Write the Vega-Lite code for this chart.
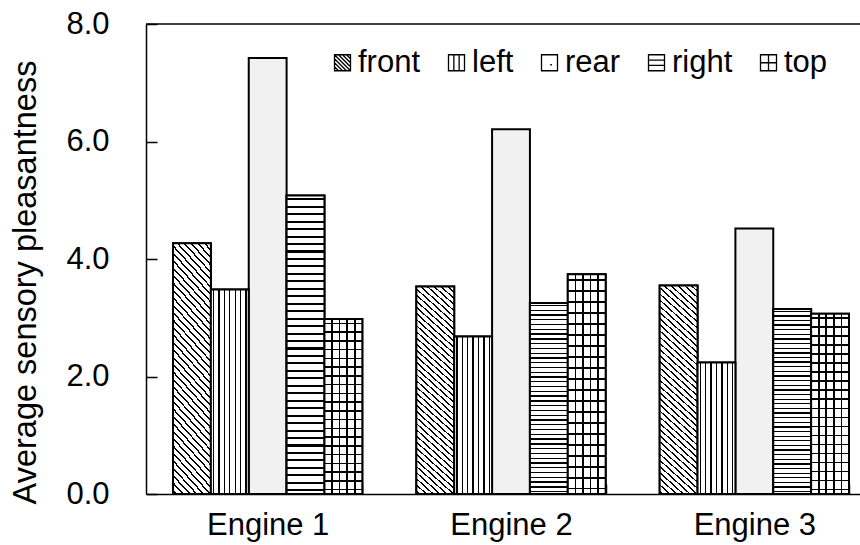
{
  "$schema": "https://vega.github.io/schema/vega-lite/v6.json",
  "width": 714,
  "height": 470,
  "autosize": {"type": "none"},
  "padding": {"left": 146, "top": 24, "right": 0, "bottom": 51},
  "background": "white",
  "config": {
    "font": "Liberation Sans",
    "view": {"stroke": null},
    "axis": {"domainColor": "black", "domainWidth": 1.5, "tickColor": "black", "tickWidth": 1.5, "labelColor": "black", "titleColor": "black", "grid": false, "labelFont": "Liberation Sans", "titleFont": "Liberation Sans"}
  },
  "encoding": {
    "y": {
      "field": "value",
      "type": "quantitative",
      "title": "Average sensory pleasantness",
      "scale": {"domain": [0, 8], "nice": false},
      "axis": {
        "values": [0, 2, 4, 6, 8],
        "format": ".1f",
        "tickSize": -11,
        "labelPadding": 48,
        "labelFontSize": 31,
        "titleFontSize": 32.5,
        "titleFontWeight": "normal",
        "titleAngle": 270,
        "titleX": -111,
        "titleY": 258,
        "titleAlign": "center",
        "titleBaseline": "alphabetic"
      }
    }
  },
  "layer": [
    {
      "data": {"values": [
        {"engine": "Engine 1", "pos": "front", "value": 4.27},
        {"engine": "Engine 1", "pos": "left", "value": 3.48},
        {"engine": "Engine 1", "pos": "rear", "value": 7.42},
        {"engine": "Engine 1", "pos": "right", "value": 5.08},
        {"engine": "Engine 1", "pos": "top", "value": 2.98},
        {"engine": "Engine 2", "pos": "front", "value": 3.53},
        {"engine": "Engine 2", "pos": "left", "value": 2.68},
        {"engine": "Engine 2", "pos": "rear", "value": 6.21},
        {"engine": "Engine 2", "pos": "right", "value": 3.25},
        {"engine": "Engine 2", "pos": "top", "value": 3.74},
        {"engine": "Engine 3", "pos": "front", "value": 3.55},
        {"engine": "Engine 3", "pos": "left", "value": 2.24},
        {"engine": "Engine 3", "pos": "rear", "value": 4.52},
        {"engine": "Engine 3", "pos": "right", "value": 3.15},
        {"engine": "Engine 3", "pos": "top", "value": 3.07}
      ]},
      "encoding": {
        "x": {
          "field": "engine", "type": "nominal", "title": null,
          "scale": {"domain": ["Engine 1", "Engine 2", "Engine 3"], "range": [0, 730], "paddingInner": 0.222, "paddingOuter": 0.111},
          "axis": {"labelAngle": 0, "labelFontSize": 31, "tickBand": "extent", "tickSize": -10, "labelPadding": 26}
        },
        "xOffset": {
          "field": "pos", "type": "nominal",
          "scale": {"domain": ["front", "left", "rear", "right", "top"], "paddingInner": 0, "paddingOuter": 0}
        }
      },
      "layer": [
        {
          "mark": {"type": "bar", "stroke": "black", "strokeWidth": 2, "fill": "#f1f1f1"},
          "encoding": {}
        },
        {
          "transform": [{"filter": "datum.pos === 'front'"}],
          "mark": {"type": "bar", "stroke": "black", "strokeWidth": 2, "fill": {"gradient": "linear", "x1": 0, "y1": 1, "x2": 0.19, "y2": -0.15, "stops": [
            {"offset":0.009,"color":"#fff"},{"offset":0.009,"color":"#000"},{"offset":0.016,"color":"#000"},{"offset":0.016,"color":"#fff"},
            {"offset":0.034,"color":"#fff"},{"offset":0.034,"color":"#000"},{"offset":0.041,"color":"#000"},{"offset":0.041,"color":"#fff"},
            {"offset":0.059,"color":"#fff"},{"offset":0.059,"color":"#000"},{"offset":0.066,"color":"#000"},{"offset":0.066,"color":"#fff"},
            {"offset":0.084,"color":"#fff"},{"offset":0.084,"color":"#000"},{"offset":0.091,"color":"#000"},{"offset":0.091,"color":"#fff"},
            {"offset":0.109,"color":"#fff"},{"offset":0.109,"color":"#000"},{"offset":0.116,"color":"#000"},{"offset":0.116,"color":"#fff"},
            {"offset":0.134,"color":"#fff"},{"offset":0.134,"color":"#000"},{"offset":0.141,"color":"#000"},{"offset":0.141,"color":"#fff"},
            {"offset":0.159,"color":"#fff"},{"offset":0.159,"color":"#000"},{"offset":0.166,"color":"#000"},{"offset":0.166,"color":"#fff"},
            {"offset":0.184,"color":"#fff"},{"offset":0.184,"color":"#000"},{"offset":0.191,"color":"#000"},{"offset":0.191,"color":"#fff"},
            {"offset":0.209,"color":"#fff"},{"offset":0.209,"color":"#000"},{"offset":0.216,"color":"#000"},{"offset":0.216,"color":"#fff"},
            {"offset":0.234,"color":"#fff"},{"offset":0.234,"color":"#000"},{"offset":0.241,"color":"#000"},{"offset":0.241,"color":"#fff"},
            {"offset":0.259,"color":"#fff"},{"offset":0.259,"color":"#000"},{"offset":0.266,"color":"#000"},{"offset":0.266,"color":"#fff"},
            {"offset":0.284,"color":"#fff"},{"offset":0.284,"color":"#000"},{"offset":0.291,"color":"#000"},{"offset":0.291,"color":"#fff"},
            {"offset":0.309,"color":"#fff"},{"offset":0.309,"color":"#000"},{"offset":0.316,"color":"#000"},{"offset":0.316,"color":"#fff"},
            {"offset":0.334,"color":"#fff"},{"offset":0.334,"color":"#000"},{"offset":0.341,"color":"#000"},{"offset":0.341,"color":"#fff"},
            {"offset":0.359,"color":"#fff"},{"offset":0.359,"color":"#000"},{"offset":0.366,"color":"#000"},{"offset":0.366,"color":"#fff"},
            {"offset":0.384,"color":"#fff"},{"offset":0.384,"color":"#000"},{"offset":0.391,"color":"#000"},{"offset":0.391,"color":"#fff"},
            {"offset":0.409,"color":"#fff"},{"offset":0.409,"color":"#000"},{"offset":0.416,"color":"#000"},{"offset":0.416,"color":"#fff"},
            {"offset":0.434,"color":"#fff"},{"offset":0.434,"color":"#000"},{"offset":0.441,"color":"#000"},{"offset":0.441,"color":"#fff"},
            {"offset":0.459,"color":"#fff"},{"offset":0.459,"color":"#000"},{"offset":0.466,"color":"#000"},{"offset":0.466,"color":"#fff"},
            {"offset":0.484,"color":"#fff"},{"offset":0.484,"color":"#000"},{"offset":0.491,"color":"#000"},{"offset":0.491,"color":"#fff"},
            {"offset":0.509,"color":"#fff"},{"offset":0.509,"color":"#000"},{"offset":0.516,"color":"#000"},{"offset":0.516,"color":"#fff"},
            {"offset":0.534,"color":"#fff"},{"offset":0.534,"color":"#000"},{"offset":0.541,"color":"#000"},{"offset":0.541,"color":"#fff"},
            {"offset":0.559,"color":"#fff"},{"offset":0.559,"color":"#000"},{"offset":0.566,"color":"#000"},{"offset":0.566,"color":"#fff"},
            {"offset":0.584,"color":"#fff"},{"offset":0.584,"color":"#000"},{"offset":0.591,"color":"#000"},{"offset":0.591,"color":"#fff"},
            {"offset":0.609,"color":"#fff"},{"offset":0.609,"color":"#000"},{"offset":0.616,"color":"#000"},{"offset":0.616,"color":"#fff"},
            {"offset":0.634,"color":"#fff"},{"offset":0.634,"color":"#000"},{"offset":0.641,"color":"#000"},{"offset":0.641,"color":"#fff"},
            {"offset":0.659,"color":"#fff"},{"offset":0.659,"color":"#000"},{"offset":0.666,"color":"#000"},{"offset":0.666,"color":"#fff"},
            {"offset":0.684,"color":"#fff"},{"offset":0.684,"color":"#000"},{"offset":0.691,"color":"#000"},{"offset":0.691,"color":"#fff"},
            {"offset":0.709,"color":"#fff"},{"offset":0.709,"color":"#000"},{"offset":0.716,"color":"#000"},{"offset":0.716,"color":"#fff"},
            {"offset":0.734,"color":"#fff"},{"offset":0.734,"color":"#000"},{"offset":0.741,"color":"#000"},{"offset":0.741,"color":"#fff"},
            {"offset":0.759,"color":"#fff"},{"offset":0.759,"color":"#000"},{"offset":0.766,"color":"#000"},{"offset":0.766,"color":"#fff"},
            {"offset":0.784,"color":"#fff"},{"offset":0.784,"color":"#000"},{"offset":0.791,"color":"#000"},{"offset":0.791,"color":"#fff"},
            {"offset":0.809,"color":"#fff"},{"offset":0.809,"color":"#000"},{"offset":0.816,"color":"#000"},{"offset":0.816,"color":"#fff"},
            {"offset":0.834,"color":"#fff"},{"offset":0.834,"color":"#000"},{"offset":0.841,"color":"#000"},{"offset":0.841,"color":"#fff"},
            {"offset":0.859,"color":"#fff"},{"offset":0.859,"color":"#000"},{"offset":0.866,"color":"#000"},{"offset":0.866,"color":"#fff"},
            {"offset":0.884,"color":"#fff"},{"offset":0.884,"color":"#000"},{"offset":0.891,"color":"#000"},{"offset":0.891,"color":"#fff"},
            {"offset":0.909,"color":"#fff"},{"offset":0.909,"color":"#000"},{"offset":0.916,"color":"#000"},{"offset":0.916,"color":"#fff"},
            {"offset":0.934,"color":"#fff"},{"offset":0.934,"color":"#000"},{"offset":0.941,"color":"#000"},{"offset":0.941,"color":"#fff"},
            {"offset":0.959,"color":"#fff"},{"offset":0.959,"color":"#000"},{"offset":0.966,"color":"#000"},{"offset":0.966,"color":"#fff"},
            {"offset":0.984,"color":"#fff"},{"offset":0.984,"color":"#000"},{"offset":0.991,"color":"#000"},{"offset":0.991,"color":"#fff"}
          ]}},
          "encoding": {}
        },
        {
          "transform": [{"filter": "datum.pos === 'left'"}],
          "mark": {"type": "bar", "stroke": "black", "strokeWidth": 2, "fill": {"gradient": "linear", "x1": 0, "y1": 0, "x2": 1, "y2": 0, "stops": [
            {"offset":0.0534,"color":"#fff"},{"offset":0.0534,"color":"#000"},{"offset":0.0894,"color":"#000"},{"offset":0.0894,"color":"#fff"},
            {"offset":0.1963,"color":"#fff"},{"offset":0.1963,"color":"#000"},{"offset":0.2323,"color":"#000"},{"offset":0.2323,"color":"#fff"},
            {"offset":0.3391,"color":"#fff"},{"offset":0.3391,"color":"#000"},{"offset":0.3751,"color":"#000"},{"offset":0.3751,"color":"#fff"},
            {"offset":0.482,"color":"#fff"},{"offset":0.482,"color":"#000"},{"offset":0.518,"color":"#000"},{"offset":0.518,"color":"#fff"},
            {"offset":0.6249,"color":"#fff"},{"offset":0.6249,"color":"#000"},{"offset":0.6609,"color":"#000"},{"offset":0.6609,"color":"#fff"},
            {"offset":0.7677,"color":"#fff"},{"offset":0.7677,"color":"#000"},{"offset":0.8037,"color":"#000"},{"offset":0.8037,"color":"#fff"},
            {"offset":0.9106,"color":"#fff"},{"offset":0.9106,"color":"#000"},{"offset":0.9466,"color":"#000"},{"offset":0.9466,"color":"#fff"}
          ]}},
          "encoding": {}
        },
        {
          "transform": [{"filter": "datum.pos === 'right'"}],
          "mark": {"type": "bar", "stroke": "black", "strokeWidth": 2, "fill": {"gradient": "linear", "x1": 0, "y1": 0, "x2": 0, "y2": 1, "stops": [
            {"offset":0.009,"color":"#fff"},{"offset":0.009,"color":"#000"},{"offset":0.016,"color":"#000"},{"offset":0.016,"color":"#fff"},
            {"offset":0.034,"color":"#fff"},{"offset":0.034,"color":"#000"},{"offset":0.041,"color":"#000"},{"offset":0.041,"color":"#fff"},
            {"offset":0.059,"color":"#fff"},{"offset":0.059,"color":"#000"},{"offset":0.066,"color":"#000"},{"offset":0.066,"color":"#fff"},
            {"offset":0.084,"color":"#fff"},{"offset":0.084,"color":"#000"},{"offset":0.091,"color":"#000"},{"offset":0.091,"color":"#fff"},
            {"offset":0.109,"color":"#fff"},{"offset":0.109,"color":"#000"},{"offset":0.116,"color":"#000"},{"offset":0.116,"color":"#fff"},
            {"offset":0.134,"color":"#fff"},{"offset":0.134,"color":"#000"},{"offset":0.141,"color":"#000"},{"offset":0.141,"color":"#fff"},
            {"offset":0.159,"color":"#fff"},{"offset":0.159,"color":"#000"},{"offset":0.166,"color":"#000"},{"offset":0.166,"color":"#fff"},
            {"offset":0.184,"color":"#fff"},{"offset":0.184,"color":"#000"},{"offset":0.191,"color":"#000"},{"offset":0.191,"color":"#fff"},
            {"offset":0.209,"color":"#fff"},{"offset":0.209,"color":"#000"},{"offset":0.216,"color":"#000"},{"offset":0.216,"color":"#fff"},
            {"offset":0.234,"color":"#fff"},{"offset":0.234,"color":"#000"},{"offset":0.241,"color":"#000"},{"offset":0.241,"color":"#fff"},
            {"offset":0.259,"color":"#fff"},{"offset":0.259,"color":"#000"},{"offset":0.266,"color":"#000"},{"offset":0.266,"color":"#fff"},
            {"offset":0.284,"color":"#fff"},{"offset":0.284,"color":"#000"},{"offset":0.291,"color":"#000"},{"offset":0.291,"color":"#fff"},
            {"offset":0.309,"color":"#fff"},{"offset":0.309,"color":"#000"},{"offset":0.316,"color":"#000"},{"offset":0.316,"color":"#fff"},
            {"offset":0.334,"color":"#fff"},{"offset":0.334,"color":"#000"},{"offset":0.341,"color":"#000"},{"offset":0.341,"color":"#fff"},
            {"offset":0.359,"color":"#fff"},{"offset":0.359,"color":"#000"},{"offset":0.366,"color":"#000"},{"offset":0.366,"color":"#fff"},
            {"offset":0.384,"color":"#fff"},{"offset":0.384,"color":"#000"},{"offset":0.391,"color":"#000"},{"offset":0.391,"color":"#fff"},
            {"offset":0.409,"color":"#fff"},{"offset":0.409,"color":"#000"},{"offset":0.416,"color":"#000"},{"offset":0.416,"color":"#fff"},
            {"offset":0.434,"color":"#fff"},{"offset":0.434,"color":"#000"},{"offset":0.441,"color":"#000"},{"offset":0.441,"color":"#fff"},
            {"offset":0.459,"color":"#fff"},{"offset":0.459,"color":"#000"},{"offset":0.466,"color":"#000"},{"offset":0.466,"color":"#fff"},
            {"offset":0.484,"color":"#fff"},{"offset":0.484,"color":"#000"},{"offset":0.491,"color":"#000"},{"offset":0.491,"color":"#fff"},
            {"offset":0.509,"color":"#fff"},{"offset":0.509,"color":"#000"},{"offset":0.516,"color":"#000"},{"offset":0.516,"color":"#fff"},
            {"offset":0.534,"color":"#fff"},{"offset":0.534,"color":"#000"},{"offset":0.541,"color":"#000"},{"offset":0.541,"color":"#fff"},
            {"offset":0.559,"color":"#fff"},{"offset":0.559,"color":"#000"},{"offset":0.566,"color":"#000"},{"offset":0.566,"color":"#fff"},
            {"offset":0.584,"color":"#fff"},{"offset":0.584,"color":"#000"},{"offset":0.591,"color":"#000"},{"offset":0.591,"color":"#fff"},
            {"offset":0.609,"color":"#fff"},{"offset":0.609,"color":"#000"},{"offset":0.616,"color":"#000"},{"offset":0.616,"color":"#fff"},
            {"offset":0.634,"color":"#fff"},{"offset":0.634,"color":"#000"},{"offset":0.641,"color":"#000"},{"offset":0.641,"color":"#fff"},
            {"offset":0.659,"color":"#fff"},{"offset":0.659,"color":"#000"},{"offset":0.666,"color":"#000"},{"offset":0.666,"color":"#fff"},
            {"offset":0.684,"color":"#fff"},{"offset":0.684,"color":"#000"},{"offset":0.691,"color":"#000"},{"offset":0.691,"color":"#fff"},
            {"offset":0.709,"color":"#fff"},{"offset":0.709,"color":"#000"},{"offset":0.716,"color":"#000"},{"offset":0.716,"color":"#fff"},
            {"offset":0.734,"color":"#fff"},{"offset":0.734,"color":"#000"},{"offset":0.741,"color":"#000"},{"offset":0.741,"color":"#fff"},
            {"offset":0.759,"color":"#fff"},{"offset":0.759,"color":"#000"},{"offset":0.766,"color":"#000"},{"offset":0.766,"color":"#fff"},
            {"offset":0.784,"color":"#fff"},{"offset":0.784,"color":"#000"},{"offset":0.791,"color":"#000"},{"offset":0.791,"color":"#fff"},
            {"offset":0.809,"color":"#fff"},{"offset":0.809,"color":"#000"},{"offset":0.816,"color":"#000"},{"offset":0.816,"color":"#fff"},
            {"offset":0.834,"color":"#fff"},{"offset":0.834,"color":"#000"},{"offset":0.841,"color":"#000"},{"offset":0.841,"color":"#fff"},
            {"offset":0.859,"color":"#fff"},{"offset":0.859,"color":"#000"},{"offset":0.866,"color":"#000"},{"offset":0.866,"color":"#fff"},
            {"offset":0.884,"color":"#fff"},{"offset":0.884,"color":"#000"},{"offset":0.891,"color":"#000"},{"offset":0.891,"color":"#fff"},
            {"offset":0.909,"color":"#fff"},{"offset":0.909,"color":"#000"},{"offset":0.916,"color":"#000"},{"offset":0.916,"color":"#fff"},
            {"offset":0.934,"color":"#fff"},{"offset":0.934,"color":"#000"},{"offset":0.941,"color":"#000"},{"offset":0.941,"color":"#fff"},
            {"offset":0.959,"color":"#fff"},{"offset":0.959,"color":"#000"},{"offset":0.966,"color":"#000"},{"offset":0.966,"color":"#fff"},
            {"offset":0.984,"color":"#fff"},{"offset":0.984,"color":"#000"},{"offset":0.991,"color":"#000"},{"offset":0.991,"color":"#fff"}
          ]}},
          "encoding": {}
        },
        {
          "transform": [{"filter": "datum.pos === 'top'"}],
          "mark": {"type": "bar", "stroke": "black", "strokeWidth": 2, "fill": {"gradient": "linear", "x1": 0, "y1": 0, "x2": 0, "y2": 1, "stops": [
            {"offset":0.0205,"color":"#fff"},{"offset":0.0205,"color":"#000"},{"offset":0.0295,"color":"#000"},{"offset":0.0295,"color":"#fff"},
            {"offset":0.0705,"color":"#fff"},{"offset":0.0705,"color":"#000"},{"offset":0.0795,"color":"#000"},{"offset":0.0795,"color":"#fff"},
            {"offset":0.1205,"color":"#fff"},{"offset":0.1205,"color":"#000"},{"offset":0.1295,"color":"#000"},{"offset":0.1295,"color":"#fff"},
            {"offset":0.1705,"color":"#fff"},{"offset":0.1705,"color":"#000"},{"offset":0.1795,"color":"#000"},{"offset":0.1795,"color":"#fff"},
            {"offset":0.2205,"color":"#fff"},{"offset":0.2205,"color":"#000"},{"offset":0.2295,"color":"#000"},{"offset":0.2295,"color":"#fff"},
            {"offset":0.2705,"color":"#fff"},{"offset":0.2705,"color":"#000"},{"offset":0.2795,"color":"#000"},{"offset":0.2795,"color":"#fff"},
            {"offset":0.3205,"color":"#fff"},{"offset":0.3205,"color":"#000"},{"offset":0.3295,"color":"#000"},{"offset":0.3295,"color":"#fff"},
            {"offset":0.3705,"color":"#fff"},{"offset":0.3705,"color":"#000"},{"offset":0.3795,"color":"#000"},{"offset":0.3795,"color":"#fff"},
            {"offset":0.4205,"color":"#fff"},{"offset":0.4205,"color":"#000"},{"offset":0.4295,"color":"#000"},{"offset":0.4295,"color":"#fff"},
            {"offset":0.4705,"color":"#fff"},{"offset":0.4705,"color":"#000"},{"offset":0.4795,"color":"#000"},{"offset":0.4795,"color":"#fff"},
            {"offset":0.5205,"color":"#fff"},{"offset":0.5205,"color":"#000"},{"offset":0.5295,"color":"#000"},{"offset":0.5295,"color":"#fff"},
            {"offset":0.5705,"color":"#fff"},{"offset":0.5705,"color":"#000"},{"offset":0.5795,"color":"#000"},{"offset":0.5795,"color":"#fff"},
            {"offset":0.6205,"color":"#fff"},{"offset":0.6205,"color":"#000"},{"offset":0.6295,"color":"#000"},{"offset":0.6295,"color":"#fff"},
            {"offset":0.6705,"color":"#fff"},{"offset":0.6705,"color":"#000"},{"offset":0.6795,"color":"#000"},{"offset":0.6795,"color":"#fff"},
            {"offset":0.7205,"color":"#fff"},{"offset":0.7205,"color":"#000"},{"offset":0.7295,"color":"#000"},{"offset":0.7295,"color":"#fff"},
            {"offset":0.7705,"color":"#fff"},{"offset":0.7705,"color":"#000"},{"offset":0.7795,"color":"#000"},{"offset":0.7795,"color":"#fff"},
            {"offset":0.8205,"color":"#fff"},{"offset":0.8205,"color":"#000"},{"offset":0.8295,"color":"#000"},{"offset":0.8295,"color":"#fff"},
            {"offset":0.8705,"color":"#fff"},{"offset":0.8705,"color":"#000"},{"offset":0.8795,"color":"#000"},{"offset":0.8795,"color":"#fff"},
            {"offset":0.9205,"color":"#fff"},{"offset":0.9205,"color":"#000"},{"offset":0.9295,"color":"#000"},{"offset":0.9295,"color":"#fff"},
            {"offset":0.9705,"color":"#fff"},{"offset":0.9705,"color":"#000"},{"offset":0.9795,"color":"#000"},{"offset":0.9795,"color":"#fff"}
          ]}},
          "encoding": {}
        },
        {
          "transform": [{"filter": "datum.pos === 'top'"}],
          "mark": {"type": "bar", "strokeWidth": 0, "fill": {"gradient": "linear", "x1": 0, "y1": 0, "x2": 1, "y2": 0, "stops": [
            {"offset":0.178,"color":"rgba(0,0,0,0)"},{"offset":0.178,"color":"#000"},{"offset":0.222,"color":"#000"},{"offset":0.222,"color":"rgba(0,0,0,0)"},
            {"offset":0.378,"color":"rgba(0,0,0,0)"},{"offset":0.378,"color":"#000"},{"offset":0.422,"color":"#000"},{"offset":0.422,"color":"rgba(0,0,0,0)"},
            {"offset":0.578,"color":"rgba(0,0,0,0)"},{"offset":0.578,"color":"#000"},{"offset":0.622,"color":"#000"},{"offset":0.622,"color":"rgba(0,0,0,0)"},
            {"offset":0.778,"color":"rgba(0,0,0,0)"},{"offset":0.778,"color":"#000"},{"offset":0.822,"color":"#000"},{"offset":0.822,"color":"rgba(0,0,0,0)"}
          ]}},
          "encoding": {}
        },
        {
          "mark": {"type": "point", "filled": false, "opacity": 0, "color": "black", "strokeWidth": 1.2},
          "encoding": {
            "shape": {
              "field": "pos", "type": "nominal",
              "scale": {
                "domain": ["front", "left", "rear", "right", "top"],
                "range": [
                  "M-1,-1H1V1H-1Z M-1,-0.5L0.5,1 M-1,0L0,1 M-1,0.5L-0.5,1 M-1,-1L1,1 M-0.5,-1L1,0.5 M0,-1L1,0 M0.5,-1L1,-0.5",
                  "M-1,-1H1V1H-1Z M-0.33,-1V1 M0.33,-1V1",
                  "M-1,-1H1V1H-1Z M0.1,0.25H0.3",
                  "M-1,-1H1V1H-1Z M-1,-0.33H1 M-1,0.33H1",
                  "M-1,-1H1V1H-1Z M0,-1V1 M-1,0H1"
                ]
              },
              "legend": {
                "orient": "none",
                "legendX": 181,
                "legendY": 23,
                "direction": "horizontal",
                "title": null,
                "padding": 0,
                "labelFontSize": 31,
                "labelColor": "black",
                "labelOffset": 0,
                "columnPadding": 20,
                "symbolSize": 256,
                "symbolOpacity": 1,
                "symbolStrokeColor": "black",
                "symbolFillColor": "white",
                "symbolStrokeWidth": 1.3
              }
            }
          }
        }
      ]
    },
    {
      "data": {"values": [{"value": 8}]},
      "mark": {"type": "rule", "color": "black", "strokeWidth": 1.5},
      "encoding": {}
    }
  ]
}
